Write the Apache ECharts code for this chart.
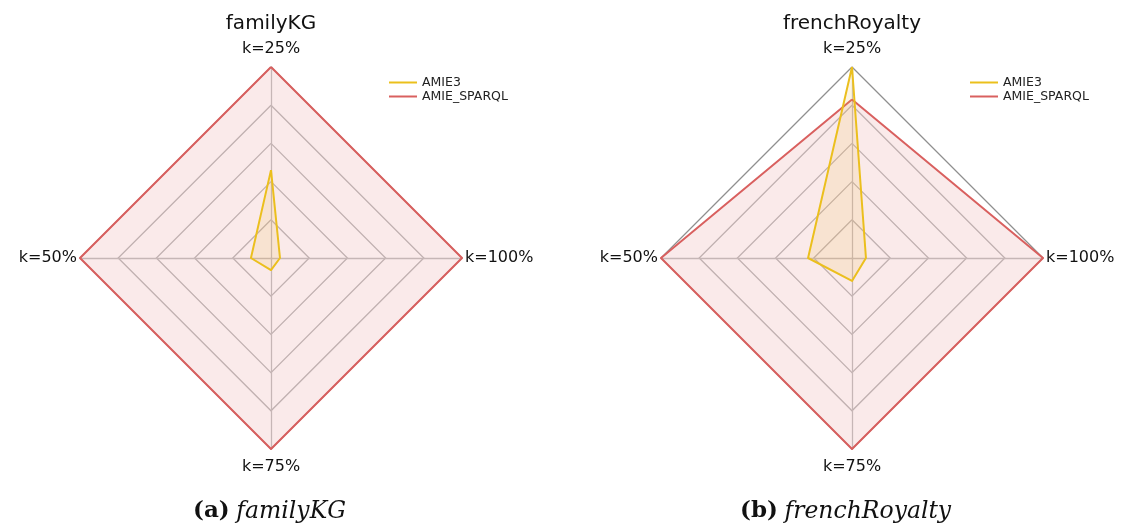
<!DOCTYPE html>
<html><head><meta charset="utf-8">
<script src="https://cdn.jsdelivr.net/npm/echarts@6/dist/echarts.min.js"></script>
<style>html,body{margin:0;padding:0;background:#fff}#c{width:1126px;height:527px}</style>
</head><body><div id="c"></div>
<script>
const indicators = ['k=25%', 'k=50%', 'k=75%', 'k=100%'];
const seriesNames = ['AMIE3', 'AMIE_SPARQL'];
const familyAMIE3 = [0.46, 0.105, 0.063, 0.047];
const familySPARQL = [1.0, 1.0, 1.0, 1.0];
const royalAMIE3 = [1.0, 0.23, 0.12, 0.073];
const royalSPARQL = [0.83, 1.0, 1.0, 1.0];
const chartTitles = ['familyKG', 'frenchRoyalty'];
const captionLetters = ['(a)', '(b)'];

const colors = ['#ebc01c', '#d9605f'];
const font = 'DejaVu Sans';

function radarCfg(cx) {
  return {
    center: [cx, 258], radius: 191, startAngle: 90, splitNumber: 5, shape: 'polygon',
    indicator: indicators.map(n => ({ name: n, max: 1, min: 0 })),
    axisName: { color: '#111', fontSize: 16, fontFamily: font, padding: [7, 0, 7, 0] },
    nameGap: 3,
    splitArea: { show: false },
    splitLine: { lineStyle: { color: ['#bdbdbd', '#bdbdbd', '#bdbdbd', '#bdbdbd', '#bdbdbd', '#8f8f8f'], width: 1.3 } },
    axisLine: { lineStyle: { color: '#c4c4c4', width: 1.3 } }
  };
}
function seriesFor(idx, a, s) {
  return {
    type: 'radar', radarIndex: idx, symbol: 'none',
    data: [
      { name: seriesNames[1], value: s, lineStyle: { color: colors[1], width: 2 }, itemStyle: { color: colors[1] }, areaStyle: { color: 'rgba(214,100,100,0.19)' } },
      { name: seriesNames[0], value: a, lineStyle: { color: colors[0], width: 2 }, itemStyle: { color: colors[0] }, areaStyle: { color: 'rgba(240,185,60,0.2)' } }
    ]
  };
}
function legendCfg(left) {
  return {
    left: left, top: 71, orient: 'vertical', itemGap: 1, itemWidth: 28, itemHeight: 2,
    icon: 'rect', data: seriesNames,
    textStyle: { fontSize: 12.5, fontFamily: font, color: '#222' }
  };
}
const capStyle = { b: { fontFamily: 'DejaVu Serif', fontWeight: 'bold', fontSize: 23, fill: '#111' }, i: { fontFamily: 'DejaVu Serif', fontStyle: 'italic', fontSize: 23.5, fill: '#111' } };
const chart = echarts.init(document.getElementById('c'), null, { renderer: 'canvas' });
chart.setOption({
  animation: false,
  color: colors,
  title: [
    { text: chartTitles[0], left: 266, top: 9, textAlign: 'center', textStyle: { fontSize: 20, fontWeight: 'normal', fontFamily: font, color: '#111' } },
    { text: chartTitles[1], left: 847, top: 9, textAlign: 'center', textStyle: { fontSize: 20, fontWeight: 'normal', fontFamily: font, color: '#111' } }
  ],
  legend: [legendCfg(384), legendCfg(965)],
  radar: [radarCfg(271), radarCfg(852)],
  series: [seriesFor(0, familyAMIE3, familySPARQL), seriesFor(1, royalAMIE3, royalSPARQL)],
  graphic: [
    { type: 'text', left: 193, top: 500, style: { rich: capStyle, text: '{b|' + captionLetters[0] + '}  {i|' + chartTitles[0] + '}' } },
    { type: 'text', left: 740, top: 500, style: { rich: capStyle, text: '{b|' + captionLetters[1] + '}  {i|' + chartTitles[1] + '}' } }
  ]
});
</script></body></html>
